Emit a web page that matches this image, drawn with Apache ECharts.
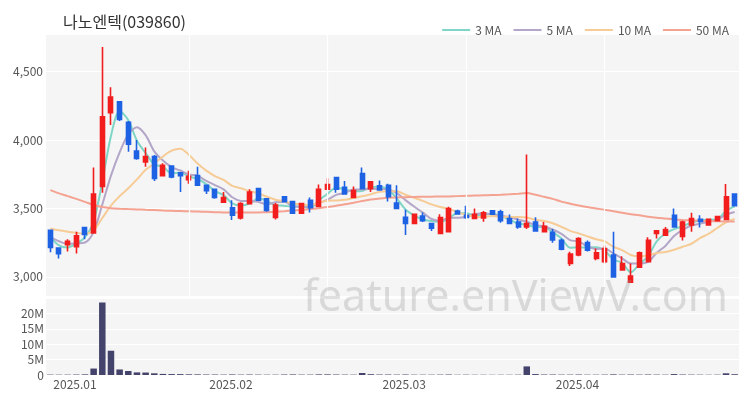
<!DOCTYPE html>
<html>
<head>
<meta charset="utf-8">
<script src="https://cdn.jsdelivr.net/npm/echarts/dist/echarts.min.js"></script>
<style>html,body{margin:0;padding:0;background:#fff}#c{width:750px;height:400px}</style>
</head>
<body>
<div id="c"></div>
<script>
const title = '나노엔텍(039860)';
const dates = [
 '2025-01-02','2025-01-03','2025-01-06','2025-01-07','2025-01-08','2025-01-09','2025-01-10','2025-01-13','2025-01-14','2025-01-15',
 '2025-01-16','2025-01-17','2025-01-20','2025-01-21','2025-01-22','2025-01-23','2025-01-24','2025-01-31',
 '2025-02-03','2025-02-04','2025-02-05','2025-02-06','2025-02-07','2025-02-10','2025-02-11','2025-02-12','2025-02-13','2025-02-14',
 '2025-02-17','2025-02-18','2025-02-19','2025-02-20','2025-02-21','2025-02-24','2025-02-25','2025-02-26','2025-02-27','2025-02-28',
 '2025-03-04','2025-03-05','2025-03-06','2025-03-07','2025-03-10','2025-03-11','2025-03-12','2025-03-13','2025-03-14','2025-03-17',
 '2025-03-18','2025-03-19','2025-03-20','2025-03-21','2025-03-24','2025-03-25','2025-03-26','2025-03-27','2025-03-28','2025-03-31',
 '2025-04-01','2025-04-02','2025-04-03','2025-04-04','2025-04-07','2025-04-08','2025-04-09','2025-04-10','2025-04-11','2025-04-14',
 '2025-04-15','2025-04-16','2025-04-17','2025-04-18','2025-04-21','2025-04-22','2025-04-23','2025-04-24','2025-04-25','2025-04-28',
 '2025-04-29','2025-04-30'
];
const opens = [3340,3210,3235,3220,3360,3320,3660,4200,4280,4130,3920,3840,3880,3740,3810,3760,3710,3740,3670,3640,
 3545,3505,3430,3535,3645,3570,3435,3585,3550,3465,3560,3515,3640,3725,3655,3580,3755,3645,3665,3670,
 3540,3435,3390,3445,3390,3317,3330,3480,3450,3427,3430,3482,3475,3427,3400,3365,3400,3330,3325,3268,
 3098,3160,3250,3135,3110,3160,3050,2960,3070,3110,3318,3305,3450,3295,3380,3420,3380,3410,3420,3605];
const closes = [3215,3170,3260,3300,3310,3605,4170,4315,4150,3970,3865,3880,3720,3815,3730,3740,3735,3670,3630,3580,
 3580,3450,3535,3620,3560,3485,3525,3550,3465,3535,3505,3640,3675,3640,3605,3630,3645,3695,3635,3585,
 3500,3390,3458,3410,3355,3434,3500,3460,3435,3458,3468,3458,3410,3390,3365,3390,3336,3370,3270,3202,
 3166,3280,3195,3175,3207,3000,3098,3005,3175,3268,3336,3346,3365,3400,3427,3405,3420,3440,3585,3520];
const lows = [3180,3135,3185,3170,3275,3315,3615,4110,4140,3915,3855,3805,3700,3735,3720,3620,3680,3665,3605,3570,
 3540,3415,3420,3530,3555,3475,3420,3545,3460,3460,3470,3510,3635,3615,3600,3575,3640,3620,3630,3550,
 3495,3305,3388,3400,3335,3315,3328,3455,3425,3425,3402,3455,3395,3385,3352,3350,3330,3325,3250,3195,
 3080,3150,3185,3122,3100,2995,3045,2955,3065,3105,3280,3300,3360,3265,3330,3360,3375,3405,3415,3515];
const highs = [3345,3215,3275,3330,3365,3800,4680,4385,4285,4140,4000,3945,3890,3830,3815,3765,3775,3805,3675,3645,
 3620,3560,3545,3640,3650,3575,3540,3590,3555,3540,3580,3675,3720,3730,3700,3660,3800,3700,3705,3680,
 3670,3490,3462,3470,3395,3458,3512,3490,3520,3500,3482,3485,3490,3455,3427,3895,3435,3400,3350,3280,
 3183,3290,3265,3207,3230,3330,3150,3098,3185,3290,3340,3365,3500,3410,3468,3450,3425,3445,3678,3610];
const volumes = [120000,100000,110000,140000,200000,2100000,23600000,7900000,1800000,1300000,
 850000,800000,550000,350000,300000,280000,220000,200000,150000,150000,
 120000,180000,120000,150000,120000,100000,100000,150000,180000,120000,
 120000,200000,200000,150000,120000,100000,650000,250000,150000,150000,
 120000,150000,100000,100000,100000,120000,150000,80000,100000,80000,
 80000,70000,80000,80000,100000,2800000,300000,150000,150000,120000,
 120000,150000,100000,100000,120000,200000,120000,150000,120000,150000,
 120000,100000,300000,150000,120000,100000,80000,100000,550000,250000];
const ma3 = [3290,3230,3215,3243,3290,3405,3695,4030,4212,4145,3995,3905,3822,3805,3755,3762,3735,3715,3678,3627,
 3597,3537,3522,3535,3572,3555,3523,3520,3513,3517,3502,3560,3607,3652,3640,3625,3627,3657,3658,3638,
 3573,3492,3449,3419,3408,3400,3430,3465,3465,3451,3454,3461,3445,3419,3388,3382,3364,3365,3325,3281,
 3213,3216,3214,3217,3192,3127,3102,3034,3093,3149,3260,3317,3349,3370,3397,3411,3417,3422,3482,3515];
const ma5 = [3290,3260,3240,3245,3251,3329,3529,3740,3910,4042,4094,4036,3917,3850,3802,3777,3748,3738,3701,3671,
 3639,3582,3555,3553,3549,3530,3545,3548,3517,3512,3516,3539,3564,3599,3613,3638,3639,3643,3642,3638,
 3612,3561,3514,3469,3423,3409,3431,3432,3437,3457,3464,3456,3446,3437,3418,3403,3378,3370,3346,3314,
 3269,3258,3223,3204,3205,3171,3135,3097,3097,3109,3176,3226,3298,3343,3375,3389,3403,3418,3455,3474];
const ma10 = [3354,3340,3330,3322,3315,3340,3430,3520,3590,3647,3712,3782,3828,3880,3922,3936,3892,3828,3776,3737,
 3708,3665,3647,3627,3610,3585,3564,3552,3535,3531,3523,3542,3556,3558,3563,3577,3589,3604,3621,3626,
 3625,3600,3578,3555,3530,3511,3496,3473,3453,3440,3437,3444,3439,3437,3438,3433,3417,3408,3392,3366,
 3336,3318,3296,3275,3259,3220,3196,3160,3150,3157,3174,3181,3198,3220,3242,3283,3315,3358,3399,3424];
const ma50 = [3634,3610,3590,3570,3548,3525,3510,3502,3498,3495,3493,3490,3488,3485,3483,3481,3479,3477,3475,3473,
 3471,3470,3470,3470,3471,3473,3476,3480,3485,3490,3496,3502,3510,3520,3530,3542,3554,3565,3572,3578,
 3580,3582,3584,3585,3586,3587,3588,3590,3592,3594,3596,3598,3600,3603,3607,3612,3600,3585,3570,3550,
 3535,3522,3510,3500,3490,3480,3468,3458,3450,3440,3432,3426,3420,3416,3413,3410,3408,3406,3405,3405];
const monthLabelIdx = [0, 18, 38, 58];
const vGridIdx = [16, 32, 48, 64];
const maNames = ['3 MA', '5 MA', '10 MA', '50 MA'];
const maColors = ['#7fd6c6', '#b3a6c8', '#f6cb95', '#f4a291'];

const FONT = '"Noto Sans CJK KR", "Noto Sans", sans-serif';
const candleData = dates.map((d, i) => [opens[i], closes[i], lows[i], highs[i]]);
const maData = [ma3, ma5, ma10, ma50];

const chart = echarts.init(document.getElementById('c'), null, {renderer: 'canvas'});
const maSeries = maNames.map((n, k) => ({
  name: n, type: 'line', xAxisIndex: 0, yAxisIndex: 0, data: maData[k],
  symbol: 'none', smooth: 0.3, z: 3,
  lineStyle: {width: 2, color: maColors[k]}, itemStyle: {color: maColors[k]},
  emphasis: {disabled: true}
}));

chart.setOption({
  animation: false,
  backgroundColor: '#ffffff',
  textStyle: {fontFamily: FONT},
  title: {
    text: title, left: 63, top: 13, padding: 0,
    textStyle: {fontFamily: FONT, fontSize: 16, fontWeight: 'normal', color: '#333', lineHeight: 18}
  },
  legend: {
    data: maNames.map(n => ({name: n, icon: 'rect'})),
    right: 16, top: 19, itemWidth: 28, itemHeight: 2, itemGap: 12,
    textStyle: {fontFamily: FONT, fontSize: 12, color: '#555'},
    selectedMode: false
  },
  grid: [
    {left: 46, width: 693, top: 34, height: 262, show: true, backgroundColor: '#f5f5f5', borderWidth: 0},
    {left: 46, width: 693, top: 298.5, height: 76.5, show: true, backgroundColor: '#f5f5f5', borderWidth: 0}
  ],
  xAxis: [
    {type: 'category', gridIndex: 0, data: dates, boundaryGap: true,
     axisLine: {show: false}, axisTick: {show: false}, axisLabel: {show: false}, splitLine: {show: false}},
    {type: 'category', gridIndex: 1, data: dates, boundaryGap: true,
     axisLine: {show: false}, axisTick: {show: false}, splitLine: {show: false},
     axisLabel: {
       show: true, margin: 3, align: 'left', padding: [0, 0, 0, 3],
       fontFamily: FONT, fontSize: 12, color: '#555',
       interval: (idx) => monthLabelIdx.indexOf(idx) >= 0,
       formatter: (v) => v.slice(0, 7).replace('-', '.')
     }}
  ],
  yAxis: [
    {type: 'value', gridIndex: 0, min: 2860, max: 4775, splitNumber: 4, scale: true,
     axisLine: {show: false}, axisTick: {show: false},
     splitLine: {show: true, lineStyle: {color: '#ffffff', width: 1.2}},
     axisLabel: {margin: 3, fontFamily: FONT, fontSize: 12, color: '#555',
       showMinLabel: false, showMaxLabel: false,
       formatter: (v) => v.toLocaleString('en-US')}},
    {type: 'value', gridIndex: 1, min: 0, max: 24900000, interval: 5000000,
     axisLine: {show: false}, axisTick: {show: false},
     splitLine: {show: true, lineStyle: {color: '#ffffff', width: 1.2}},
     axisLabel: {margin: 2, fontFamily: FONT, fontSize: 12, color: '#555',
       showMaxLabel: false,
       formatter: (v) => v === 0 ? '0' : (v / 1000000) + 'M'}}
  ],
  series: [
    {name: 'vgrid', type: 'line', xAxisIndex: 0, yAxisIndex: 0, data: dates.map(() => null),
     symbol: 'none', z: 1, silent: true,
     markLine: {silent: true, symbol: 'none', label: {show: false},
       lineStyle: {color: '#ffffff', width: 1.2, type: 'solid'},
       data: vGridIdx.map(i => ({xAxis: dates[i]}))}},
    ...maSeries,
    {name: 'price', type: 'candlestick', xAxisIndex: 0, yAxisIndex: 0, data: candleData,
     barWidth: 4.5, z: 4,
     itemStyle: {color: '#f21d1d', color0: '#1e62e4', borderColor: '#f21d1d', borderColor0: '#1e62e4', borderWidth: 1.6},
     emphasis: {disabled: true}},
    {name: 'volume', type: 'bar', xAxisIndex: 1, yAxisIndex: 1, data: volumes,
     barWidth: 6.5, itemStyle: {color: '#43436b'}, emphasis: {disabled: true}}
  ],
  graphic: [
    {type: 'text', left: 303, top: 277, z: 100, silent: true,
     style: {text: 'feature.enViewV.com', font: '43px "Noto Sans", sans-serif', fill: 'rgba(150,150,150,0.3)'}}
  ]
});
</script>
</body>
</html>
